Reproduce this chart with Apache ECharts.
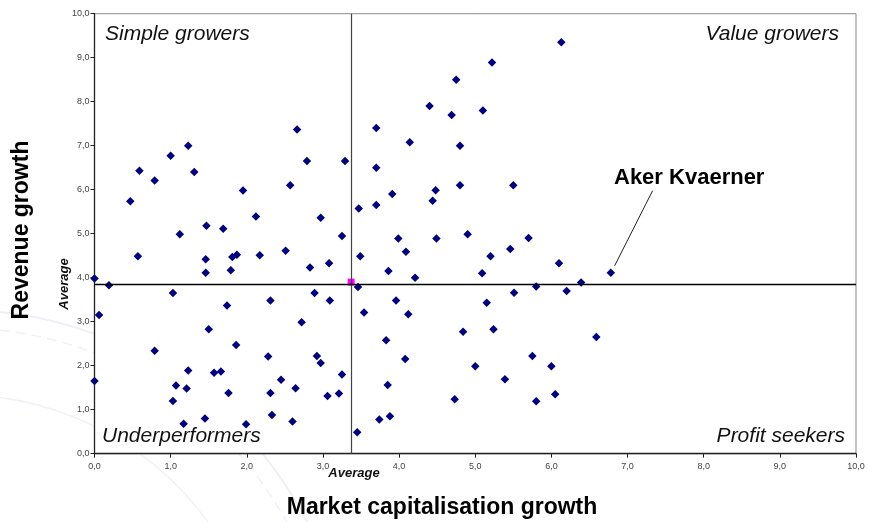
<!DOCTYPE html>
<html>
<head>
<meta charset="utf-8">
<script src="https://cdn.jsdelivr.net/npm/echarts@6/dist/echarts.min.js"></script>
<style>
  html, body { margin: 0; padding: 0; background: #fff; }
  #chart { width: 869px; height: 522px; }
</style>
</head>
<body>
<div id="chart"></div>
<script>
// company positions [market cap growth, revenue growth], grouped by quadrant
const simpleGrowers = [
  [0.47, 5.74], [0.59, 6.43], [0.79, 6.21], [1.00, 6.77], [1.23, 7.00], [1.31, 6.40],
  [1.95, 5.98], [2.57, 6.10], [2.66, 7.37], [1.12, 4.99], [1.47, 5.18], [1.69, 5.11],
  [2.12, 5.39], [0.57, 4.49], [1.46, 4.42], [1.46, 4.11], [1.81, 4.47], [1.87, 4.52],
  [2.17, 4.51], [2.51, 4.61], [1.79, 4.17], [0.00, 3.98], [2.79, 6.65], [3.29, 6.65],
  [2.97, 5.36], [3.25, 4.95], [2.83, 4.23], [3.08, 4.33]
];
const underperformers = [
  [0.19, 3.83], [1.03, 3.65], [0.06, 3.15], [1.74, 3.37], [2.31, 3.48], [2.72, 2.99],
  [1.50, 2.83], [1.86, 2.47], [0.79, 2.34], [2.28, 2.21], [1.23, 1.89], [1.57, 1.84],
  [1.66, 1.87], [0.00, 1.65], [1.07, 1.55], [1.21, 1.48], [1.76, 1.38], [2.31, 1.38],
  [2.45, 1.68], [2.64, 1.49], [1.03, 1.20], [1.17, 0.68], [1.45, 0.80], [1.99, 0.67],
  [2.33, 0.88], [2.60, 0.73], [2.89, 3.65], [3.09, 3.48], [2.92, 2.22], [2.97, 2.06],
  [3.25, 1.80], [3.06, 1.31], [3.21, 1.37]
];
const valueGrowers = [
  [6.13, 9.35], [5.22, 8.89], [4.75, 8.50], [4.40, 7.90], [4.69, 7.70], [5.10, 7.80],
  [3.70, 7.40], [4.14, 7.08], [4.80, 7.00], [3.70, 6.50], [4.80, 6.10], [5.50, 6.10],
  [3.91, 5.90], [4.48, 5.99], [4.44, 5.75], [3.47, 5.57], [3.70, 5.65], [3.99, 4.89],
  [4.49, 4.89], [4.90, 4.99], [5.70, 4.90], [3.49, 4.49], [4.09, 4.59], [5.20, 4.49],
  [5.46, 4.65], [3.86, 4.15], [4.21, 4.00], [5.09, 4.10], [6.10, 4.33], [6.39, 3.89]
];
const profitSeekers = [
  [3.46, 3.79], [3.96, 3.48], [5.51, 3.66], [5.80, 3.80], [6.20, 3.70], [5.15, 3.43],
  [3.54, 3.21], [4.12, 3.17], [4.84, 2.77], [5.24, 2.83], [3.83, 2.58], [4.08, 2.15],
  [5.75, 2.22], [5.00, 1.99], [6.00, 1.99], [5.39, 1.69], [3.85, 1.56], [4.73, 1.24],
  [5.80, 1.19], [6.05, 1.35], [3.74, 0.78], [3.88, 0.85], [3.45, 0.49], [6.59, 2.65]
];
const akerKvaerner = [6.78, 4.11];
const averagePoint = [3.37, 3.90];
const averageX = 3.37;
const averageY = 3.85;
const leaderLine = [[7.33, 5.98], [6.83, 4.27]];
const axisTicks = [0, 1, 2, 3, 4, 5, 6, 7, 8, 9, 10];

const navy = '#000080';
const font = '"Liberation Sans", Arial, sans-serif';
const fmt = v => v.toFixed(1).replace('.', ',');

const chart = echarts.init(document.getElementById('chart'));

const allCompanies = simpleGrowers.concat(underperformers, valueGrowers, profitSeekers, [akerKvaerner]);

chart.setOption({
  animation: false,
  backgroundColor: '#fff',
  grid: {
    left: 94.5, right: 13, top: 13.7, bottom: 68.3,
    show: true, borderColor: '#8a8a8a', borderWidth: 1, backgroundColor: '#fff'
  },
  xAxis: {
    type: 'value', min: axisTicks[0], max: axisTicks[axisTicks.length - 1], interval: 1,
    splitLine: { show: false },
    axisLine: { lineStyle: { color: '#222', width: 1.3 } },
    axisTick: { show: true, length: 4, lineStyle: { color: '#222' } },
    axisLabel: { formatter: fmt, fontSize: 9, color: '#444', fontFamily: font, margin: 8 }
  },
  yAxis: {
    type: 'value', min: axisTicks[0], max: axisTicks[axisTicks.length - 1], interval: 1,
    splitLine: { show: false },
    axisLine: { lineStyle: { color: '#222', width: 1.3 } },
    axisTick: { show: true, length: 4, lineStyle: { color: '#222' } },
    axisLabel: { formatter: fmt, fontSize: 9, color: '#444', fontFamily: font, margin: 5 }
  },
  series: [
    {
      type: 'scatter', data: allCompanies, symbol: 'diamond', symbolSize: 8.5,
      itemStyle: { color: navy, opacity: 1 }, z: 3,
      markLine: {
        silent: true, symbol: 'none', animation: false,
        label: { show: false },
        data: [
          { xAxis: averageX, lineStyle: { color: '#444', width: 1.2, type: 'solid' } },
          { yAxis: averageY, lineStyle: { color: '#000', width: 1.3, type: 'solid' } }
        ]
      }
    },
    {
      type: 'scatter', data: [averagePoint], symbol: 'rect', symbolSize: 7,
      itemStyle: { color: '#ff00ff', opacity: 1 }, z: 4
    },
    {
      type: 'line', data: leaderLine, symbol: 'none',
      lineStyle: { color: '#222', width: 1 }, z: 2
    }
  ],
  graphic: [
    // faint watermark arcs behind the plot
    { type: 'circle', shape: { cx: -40, cy: 700, r: 390 }, style: { fill: 'none', stroke: '#eef0f5', lineWidth: 2 }, z: -10, silent: true },
    { type: 'circle', shape: { cx: -40, cy: 700, r: 372 }, style: { fill: 'none', stroke: '#f0f1f6', lineWidth: 1.5, lineDash: [10, 6] }, z: -10, silent: true },
    { type: 'circle', shape: { cx: -40, cy: 700, r: 305 }, style: { fill: 'none', stroke: '#f0f1f6', lineWidth: 1.5 }, z: -10, silent: true },
    // quadrant labels
    { type: 'text', left: 105, top: 24, style: { text: 'Simple growers', font: 'italic 21px ' + font, fill: '#111' } },
    { type: 'text', right: 30, top: 24, style: { text: 'Value growers', font: 'italic 21px ' + font, fill: '#111' } },
    { type: 'text', left: 102, top: 426, style: { text: 'Underperformers', font: 'italic 21px ' + font, fill: '#111' } },
    { type: 'text', right: 24, top: 426, style: { text: 'Profit seekers', font: 'italic 21px ' + font, fill: '#111' } },
    // annotation
    { type: 'text', left: 614, top: 167, style: { text: 'Aker Kvaerner', font: 'bold 22px ' + font, fill: '#000' } },
    // average markers on axes
    { type: 'text', x: 354, y: 473, style: { text: 'Average', font: 'italic bold 13px ' + font, fill: '#111', align: 'center', verticalAlign: 'middle' } },
    { type: 'text', x: 64, y: 284, rotation: Math.PI / 2, style: { text: 'Average', font: 'italic bold 13px ' + font, fill: '#111', align: 'center', verticalAlign: 'middle' } },
    // axis titles
    { type: 'text', x: 442, y: 508, style: { text: 'Market capitalisation growth', font: 'bold 23px ' + font, fill: '#000', align: 'center', verticalAlign: 'middle' } },
    { type: 'text', x: 22, y: 230, rotation: Math.PI / 2, style: { text: 'Revenue growth', font: 'bold 23px ' + font, fill: '#000', align: 'center', verticalAlign: 'middle' } }
  ]
});
</script>
</body>
</html>
